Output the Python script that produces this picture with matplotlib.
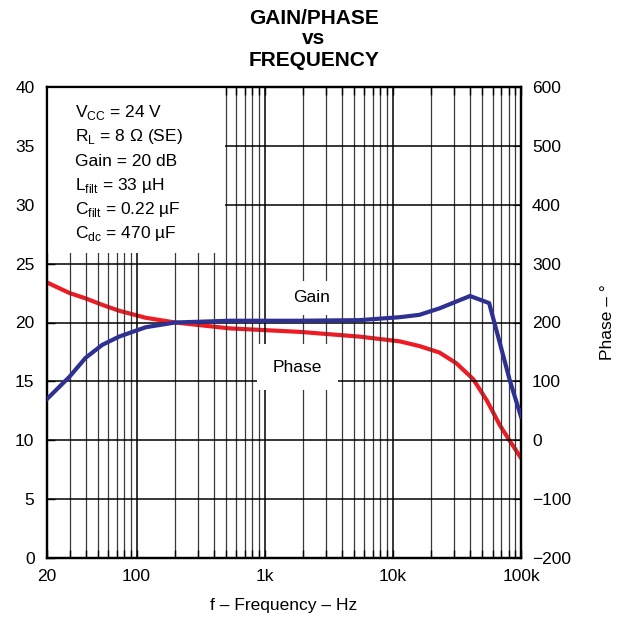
import numpy as np
import matplotlib.pyplot as plt
from matplotlib.ticker import FixedLocator, NullFormatter

plt.rcParams['font.family'] = ['Liberation Sans', 'DejaVu Sans']
plt.rcParams['mathtext.fontset'] = 'custom'
plt.rcParams['mathtext.rm'] = 'Liberation Sans'
plt.rcParams['axes.unicode_minus'] = True

# Data
gain_freq = [20, 30, 40, 54, 73, 118, 200, 534, 1900, 5500, 11300, 16100,
             23100, 40000, 56400, 68600, 81700, 100000]
gain_db = [13.5, 15.4, 17.0, 18.1, 18.8, 19.6, 20.0, 20.15, 20.15, 20.2, 20.45,
           20.65, 21.2, 22.25, 21.65, 18.2, 15.1, 12.0]

phase_freq = [20, 30, 40, 54, 73, 118, 200, 534, 1900, 5500, 11300, 16100,
              23100, 31200, 42300, 54300, 68600, 81700, 100000]
phase_deg = [268, 250, 241, 230, 220, 208, 200, 190, 184, 176, 168, 160,
             149, 131, 104, 67, 25, -1, -30]

x_ticks = [20, 100, 1000, 10000, 100000]
x_labels = ['20', '100', '1k', '10k', '100k']
left_ticks = [0, 5, 10, 15, 20, 25, 30, 35, 40]
right_ticks = [-200, -100, 0, 100, 200, 300, 400, 500, 600]

conditions = [r'V$_{\mathregular{CC}}$ = 24 V',
              r'R$_{\mathregular{L}}$ = 8 Ω (SE)',
              'Gain = 20 dB',
              r'L$_{\mathregular{filt}}$ = 33 µH',
              r'C$_{\mathregular{filt}}$ = 0.22 µF',
              r'C$_{\mathregular{dc}}$ = 470 µF']

blue = '#2E3192'
red = '#ED1C24'

fig = plt.figure(figsize=(6.3, 6.21), dpi=100)
ax = fig.add_axes([47 / 630, 1 - 558 / 621, 474 / 630, 471 / 621])
ax2 = ax.twinx()

ax.set_xscale('log')
ax.set_xlim(20, 100000)
ax.set_ylim(0, 40)
ax2.set_ylim(-200, 600)

ax.xaxis.set_major_locator(FixedLocator(x_ticks))
ax.set_xticklabels(x_labels)
minor = [m * 10 ** d for d in range(1, 5) for m in range(2, 10)]
minor = [v for v in minor if v > 20 and v not in x_ticks]
ax.xaxis.set_minor_locator(FixedLocator(minor))
ax.xaxis.set_minor_formatter(NullFormatter())
ax.set_yticks(left_ticks)
ax2.set_yticks(right_ticks)

ax.set_axisbelow(True)
ax.grid(True, which='major', color='black', linewidth=1.1)
ax.grid(True, which='minor', axis='x', color='#3a3a3a', linewidth=0.9)

ax.tick_params(axis='both', which='both', direction='in', labelsize=12.5,
               top=True, length=6, width=1)
ax.tick_params(axis='y', pad=9)
ax.tick_params(axis='x', pad=8)
ax2.tick_params(axis='y', direction='in', labelsize=12.5, length=6, pad=8)

for sp in ax.spines.values():
    sp.set_linewidth(1.6)
for sp in ax2.spines.values():
    sp.set_linewidth(1.6)

# conditions box
ax.add_patch(plt.Rectangle((20, 25.9), 490 - 20, 40 - 25.9, facecolor='white',
                           edgecolor='none', zorder=1))
for i, s in enumerate(conditions):
    ax.text(0.059, 0.9357 - i * 0.0514, s, transform=ax.transAxes,
            fontsize=12.5, va='baseline', ha='left', zorder=3)

ax2.plot(phase_freq, phase_deg, color=red, linewidth=3, zorder=3)
ax.plot(gain_freq, gain_db, color=blue, linewidth=3, zorder=4)
ax.set_zorder(ax2.get_zorder() + 1)
ax.patch.set_visible(False)

ax.text(2300, 22.1, 'Gain', fontsize=12.5, ha='center', va='center', zorder=2,
        bbox=dict(boxstyle='square,pad=0.55', facecolor='white', edgecolor='none'))
ax.text(1800, 16.2, 'Phase', fontsize=12.5, ha='center', va='center', zorder=2,
        bbox=dict(boxstyle='square,pad=0.9', facecolor='white', edgecolor='none'))

ax.set_xlabel('f – Frequency – Hz', fontsize=12.5, labelpad=10)
ax2.set_ylabel('Phase – °', fontsize=12.5)
ax2.yaxis.set_label_coords((600 - 47) / 474, 0.5)

for txt, ypix in [('GAIN/PHASE', 18), ('vs', 39), ('FREQUENCY', 61)]:
    fig.text(314 / 630, 1 - ypix / 621, txt, fontsize=15, fontweight='bold',
             ha='center', va='center')

fig.savefig('out.png', dpi=100)
